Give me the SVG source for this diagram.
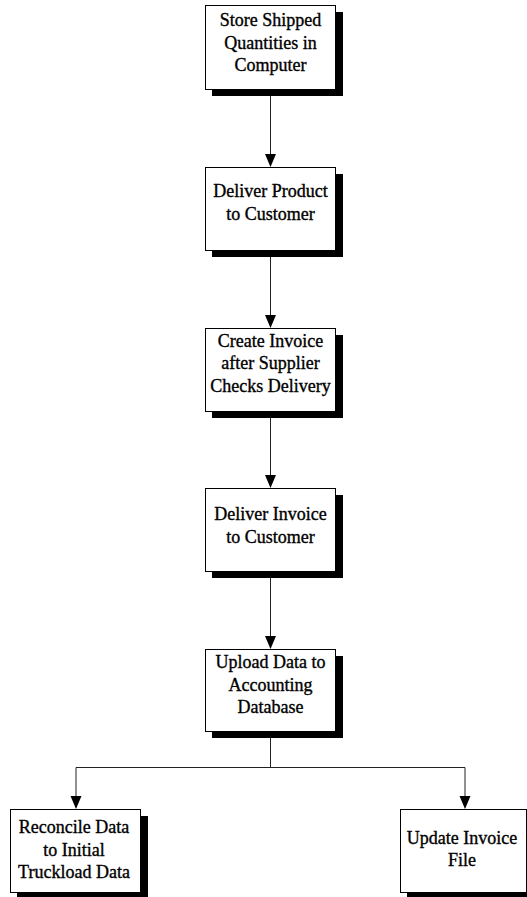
<svg xmlns="http://www.w3.org/2000/svg" width="527" height="897" viewBox="0 0 527 897">
<defs>
<style>
.box{fill:#fff;stroke:#000;stroke-width:1}
.sh{fill:#000}
.t{font-family:"Liberation Serif","Times New Roman",serif;font-size:18px;font-weight:normal;fill:#000;stroke:#000;stroke-width:0.35;text-anchor:middle}
.c{stroke:#222;stroke-width:1;fill:none}
.ah{fill:#000}
</style>
</defs>
<rect width="527" height="897" fill="#fff"/>
<g id="connectors">
<line class="c" x1="270.5" y1="89" x2="270.5" y2="154"/>
<path class="ah" d="M265,154 L276,154 L270.5,167 Z"/>
<line class="c" x1="270.5" y1="250" x2="270.5" y2="315"/>
<path class="ah" d="M265,315 L276,315 L270.5,328 Z"/>
<line class="c" x1="270.5" y1="411" x2="270.5" y2="475"/>
<path class="ah" d="M265,475 L276,475 L270.5,488 Z"/>
<line class="c" x1="270.5" y1="571" x2="270.5" y2="636"/>
<path class="ah" d="M265,636 L276,636 L270.5,649 Z"/>
<polyline class="c" points="270.5,731 270.5,767.5"/>
<polyline class="c" points="76,796 76,767.5 465,767.5 465,796"/>
<path class="ah" d="M70.5,796 L81.5,796 L76,809 Z"/>
<path class="ah" d="M459.5,796 L470.5,796 L465,809 Z"/>
</g>
<g id="n1">
<rect class="sh" x="212" y="12" width="131" height="84"/>
<rect class="box" x="205.5" y="5.5" width="130" height="84"/>
<text class="t" x="270.5" y="26">Store Shipped</text>
<text class="t" x="270.5" y="48.5">Quantities in</text>
<text class="t" x="270.5" y="71">Computer</text>
</g>
<g id="n2">
<rect class="sh" x="212" y="174" width="131" height="83"/>
<rect class="box" x="205.5" y="167.5" width="130" height="83"/>
<text class="t" x="270.5" y="197">Deliver Product</text>
<text class="t" x="270.5" y="220">to Customer</text>
</g>
<g id="n3">
<rect class="sh" x="212" y="335" width="131" height="83"/>
<rect class="box" x="205.5" y="328.5" width="130" height="83"/>
<text class="t" x="270.5" y="346.5">Create Invoice</text>
<text class="t" x="270.5" y="369">after Supplier</text>
<text class="t" x="270.5" y="391.5">Checks Delivery</text>
</g>
<g id="n4">
<rect class="sh" x="212" y="495" width="131" height="83"/>
<rect class="box" x="205.5" y="488.5" width="130" height="83"/>
<text class="t" x="270.5" y="520">Deliver Invoice</text>
<text class="t" x="270.5" y="543">to Customer</text>
</g>
<g id="n5">
<rect class="sh" x="212" y="656" width="131" height="82"/>
<rect class="box" x="205.5" y="649.5" width="130" height="82"/>
<text class="t" x="270.5" y="668">Upload Data to</text>
<text class="t" x="270.5" y="690.5">Accounting</text>
<text class="t" x="270.5" y="713">Database</text>
</g>
<g id="n6">
<rect class="sh" x="17" y="816" width="131" height="83"/>
<rect class="box" x="10.5" y="809.5" width="130" height="83"/>
<text class="t" x="74" y="833">Reconcile Data</text>
<text class="t" x="74" y="855.5">to Initial</text>
<text class="t" x="74" y="878">Truckload Data</text>
</g>
<g id="n7">
<rect class="sh" x="407" y="816" width="131" height="83"/>
<rect class="box" x="400.5" y="809.5" width="126" height="83"/>
<text class="t" x="462" y="844">Update Invoice</text>
<text class="t" x="462" y="866">File</text>
</g>
</svg>
